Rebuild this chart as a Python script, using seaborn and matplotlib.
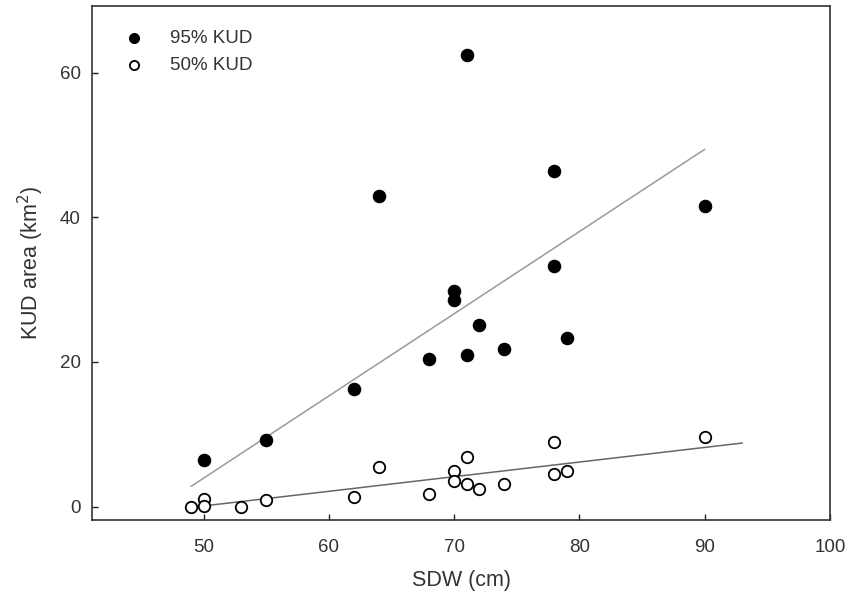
import numpy as np
import pandas as pd
import matplotlib
matplotlib.use("Agg")
import matplotlib.pyplot as plt
import seaborn as sns

# values
sdw_95 = [50, 55, 62, 64, 68, 70, 70, 71, 71, 72, 74, 78, 78, 79, 90]
kud_95 = [6.5, 9.2, 16.3, 43.0, 20.4, 29.8, 28.6, 62.5, 20.9, 25.1, 21.8, 46.4, 33.2, 23.3, 41.5]

sdw_50 = [49, 50, 50, 53, 55, 62, 64, 68, 70, 70, 71, 71, 72, 74, 78, 78, 79, 90]
kud_50 = [0.0, 1.1, 0.1, 0.0, 0.9, 1.4, 5.5, 1.7, 4.9, 3.5, 6.9, 3.1, 2.4, 3.1, 9.0, 4.5, 5.0, 9.7]

# regression lines as drawn in the reference
fit95_x = [49, 90]
fit95_y = [2.8, 49.4]
fit50_x = [49, 93]
fit50_y = [-0.1, 8.8]

x_ticks = [50, 60, 70, 80, 90, 100]
y_ticks = [0, 20, 40, 60]

sns.set_theme(style="ticks")
plt.rcParams["font.family"] = ["Liberation Sans", "DejaVu Sans"]

fig = plt.figure(figsize=(8.48, 6.05), dpi=100)
ax = fig.add_axes([0.1085, 0.1405, 0.8703, 0.8495])

df95 = pd.DataFrame({"sdw": sdw_95, "kud": kud_95})
df50 = pd.DataFrame({"sdw": sdw_50, "kud": kud_50})

sns.lineplot(x=fit95_x, y=fit95_y, ax=ax, color="#9a9a9a", lw=1.1, zorder=1)
sns.lineplot(x=fit50_x, y=fit50_y, ax=ax, color="#666666", lw=1.1, zorder=1)

sns.scatterplot(data=df95, x="sdw", y="kud", ax=ax, color="black", s=80,
                edgecolor="black", linewidth=0.8, label="95% KUD", zorder=3)
sns.scatterplot(data=df50, x="sdw", y="kud", ax=ax, color="white", s=68,
                edgecolor="black", linewidth=1.3, label="50% KUD", zorder=4)

ax.set_xlim(41.1, 100)
ax.set_ylim(-1.84, 69.2)
ax.set_xticks(x_ticks)
ax.set_yticks(y_ticks)
ax.tick_params(direction="in", length=4, width=1, labelsize=13.5, colors="#222222",
               labelcolor="#333333")
ax.tick_params(axis="y", pad=8)
ax.tick_params(axis="x", pad=14)
for sp in ax.spines.values():
    sp.set_color("#333333")
    sp.set_linewidth(1.2)

ax.set_xlabel("SDW (cm)", fontsize=15.5, color="#333333", labelpad=10)
ax.set_ylabel("KUD area (km$^2$)", fontsize=15.5, color="#333333", labelpad=10)

leg = ax.legend(loc="upper left", frameon=False, fontsize=13.5, handletextpad=0.9,
                borderaxespad=0.85, labelspacing=0.55, markerscale=0.8)
for t in leg.get_texts():
    t.set_color("#333333")

fig.savefig("out.png", dpi=100)
